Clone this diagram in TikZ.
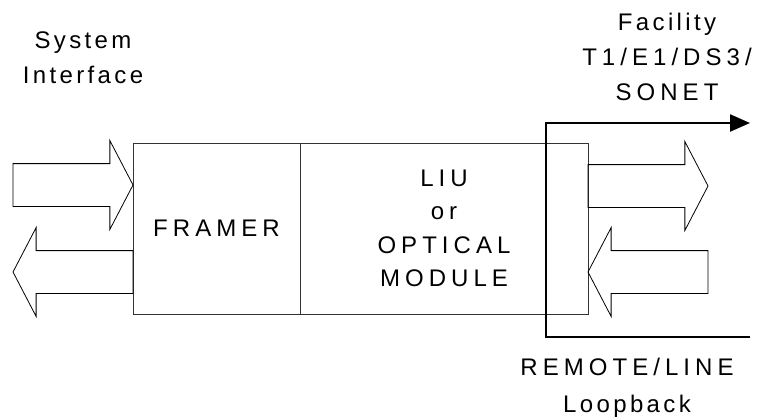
\documentclass[tikz,border=0pt]{standalone}
\usepackage{fontspec}
\setmainfont{Liberation Sans}[LetterSpace=14]
\newfontfamily\wide{Liberation Sans}[LetterSpace=21]
\usetikzlibrary{positioning,shapes.arrows,arrows.meta}

\begin{document}
\begin{tikzpicture}[x=1pt, y=-1pt,
  every node/.style = {font=\fontsize{24}{35}\selectfont, align=center},
  block/.style = {shape=rectangle, draw=black!80, line width=0.8pt,
    inner sep=0pt, outer sep=0pt, font=\wide\fontsize{24}{33.5}\selectfont},
  fatarrow/.style = {single arrow, draw, line width=0.8pt, inner xsep=0pt,
    inner ysep=21pt, outer sep=0pt, minimum height=120pt, minimum width=88pt,
    single arrow head extend=23pt, single arrow tip angle=125},
  loopline/.style = {line width=2.4pt, -{Triangle[length=20pt, width=17pt]}}]
  \useasboundingbox (0,0) rectangle (757,416);

  % the two blocks
  \node[block, minimum width=167pt, minimum height=171pt] (framer)
    at (216.5,228.5) {FRAMER};
  \node[block, minimum width=288pt, minimum height=171pt, right=0pt of framer]
    (liu) {LIU\\or\\OPTICAL\\MODULE};

  % system side
  \node[fatarrow, anchor=tip] (sysin) at ([yshift=43.5pt]framer.west) {};
  \node[fatarrow, shape border rotate=180, anchor=tail] (sysout)
    at ([yshift=-43.5pt]framer.west) {};

  % line side
  \node[fatarrow, anchor=tail] (lineout) at ([yshift=42.5pt]liu.east) {};
  \node[fatarrow, shape border rotate=180, anchor=tip] (linein)
    at ([yshift=-43.5pt]liu.east) {};

  % loopback path
  \coordinate (lb start) at (750,337);
  \coordinate (lb turn) at (546,337);
  \coordinate (lb end) at (750,123);
  \draw[loopline] (lb start) -- (lb turn) |- (lb end);

  \node (sys) at (83,58) {System\\Interface};
  \node (fac) at (667,57) {Facility\\{\wide T1/E1/DS3/}\\{\wide SONET}};
  \node[font=\fontsize{24}{36.5}\selectfont] (remote) at (627,388)
    {{\wide REMOTE/LINE}\\Loopback};
\end{tikzpicture}
\end{document}
